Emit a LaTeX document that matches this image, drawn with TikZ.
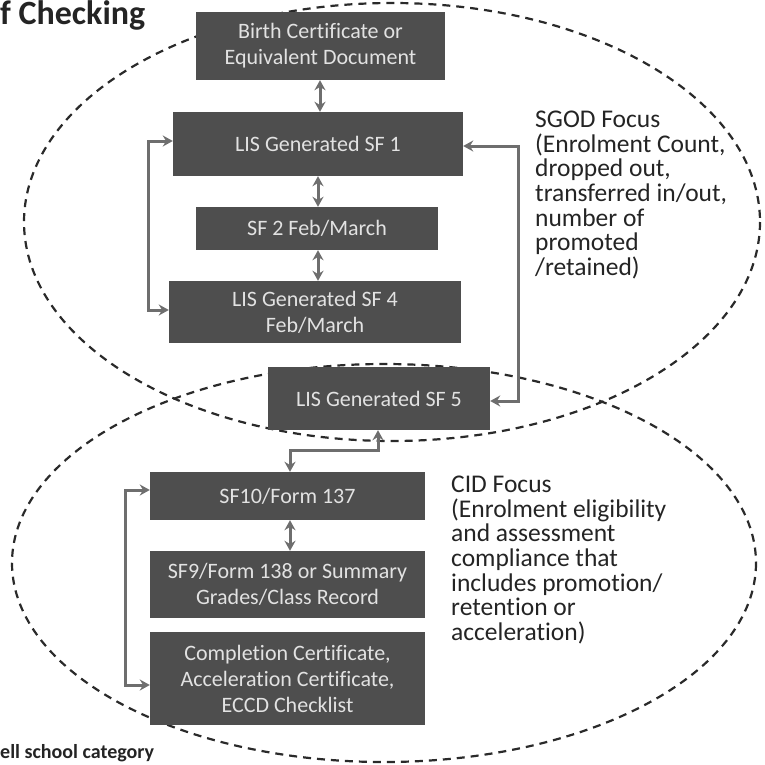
\documentclass[tikz,border=0pt]{standalone}
\usepackage{fontspec}
\setmainfont{Carlito}[Ligatures=NoCommon]
\usetikzlibrary{arrows.meta}
\definecolor{boxgray}{HTML}{4E4E4E}
\definecolor{boxtext}{HTML}{E2E2E2}
\definecolor{arrgray}{HTML}{6E6E6E}
\definecolor{dashcol}{HTML}{2A2A2A}
\definecolor{labcol}{HTML}{242424}
\tikzset{
  docbox/.style={fill=boxgray, text=boxtext, inner sep=0pt, align=center,
    font=\fontsize{22}{26}\selectfont},
  link/.style={draw=arrgray, line width=3pt,
    {Stealth[length=10pt,width=11pt]}-{Stealth[length=10pt,width=11pt]}},
  focus/.style={dash pattern=on 8pt off 6pt, line width=2.2pt, draw=dashcol},
  note/.style={text=labcol, align=left, inner sep=0pt, font=\fontsize{25.5}{24.6}\selectfont},
}
\begin{document}
\begin{tikzpicture}[x=1pt,y=-1pt]
\useasboundingbox (0,0) rectangle (764,765);
% focus ellipses
\draw[focus] (392,222) ellipse [x radius=368, y radius=219];
\draw[focus] (384,563) ellipse [x radius=372, y radius=199];
% boxes
\node[docbox, minimum width=249, minimum height=68] (bc) at (320.5,46) {Birth Certificate or\\Equivalent Document};
\node[docbox, minimum width=290, minimum height=64] (sf1) at (318,144) {LIS Generated SF 1};
\node[docbox, minimum width=242, minimum height=43] (sf2) at (317,228.5) {SF 2 Feb/March};
\node[docbox, minimum width=292, minimum height=62] (sf4) at (315,312) {LIS Generated SF 4\\Feb/March};
\node[docbox, minimum width=222, minimum height=63] (sf5) at (379,398.5) {LIS Generated SF 5};
\node[docbox, minimum width=275, minimum height=48] (sf10) at (287.5,496) {SF10/Form 137};
\node[docbox, minimum width=275, minimum height=67] (sf9) at (287.5,584.5) {SF9/Form 138 or Summary\\Grades/Class Record};
\node[docbox, minimum width=275, minimum height=93] (cc) at (287.5,678.5) {Completion Certificate,\\Acceleration Certificate,\\ECCD Checklist};
% connectors
\draw[link] (bc.south -| 320,0) -- (sf1.north -| 320,0);
\draw[link] (sf1.south -| 318,0) -- (sf2.north -| 318,0);
\draw[link] (sf2.south -| 318,0) -- (sf4.north -| 318,0);
\coordinate (lt) at (148,141);
\draw[link] (sf1.west |- lt) -- (lt) -- (148,310) -- (sf4.west |- 0,310);
\coordinate (rt) at (518,146);
\draw[link] (sf5.east |- 0,401) -- (518,401) -- (rt) -- (sf1.east |- rt);
\draw[link] (sf5.south -| 378,0) -- (378,450) -- (290,450) -- (sf10.north -| 290,0);
\draw[link] (sf10.south -| 290,0) -- (sf9.north -| 290,0);
\draw[link] (sf10.west |- 0,490) -- (125,490) -- (125,685) -- (cc.west |- 0,685);
% notes
\node[note, anchor=north west] (sgod) at (535,111) {SGOD Focus\\(Enrolment Count,\\dropped out,\\transferred in/out,\\number of\\promoted\\/retained)};
\node[note, anchor=north west] (cid) at (451,476) {CID Focus\\(Enrolment eligibility\\and assessment\\compliance that\\includes promotion/\\retention or\\acceleration)};
\node[anchor=north west, inner sep=0pt, text=labcol, font=\fontsize{34}{34}\selectfont\bfseries] (title) at (0,0) {f Checking};
\node[anchor=south west, inner sep=0pt, text=labcol, font=\fontsize{20}{20}\selectfont\bfseries] (foot) at (0,762) {ell school category};
\end{tikzpicture}
\end{document}
